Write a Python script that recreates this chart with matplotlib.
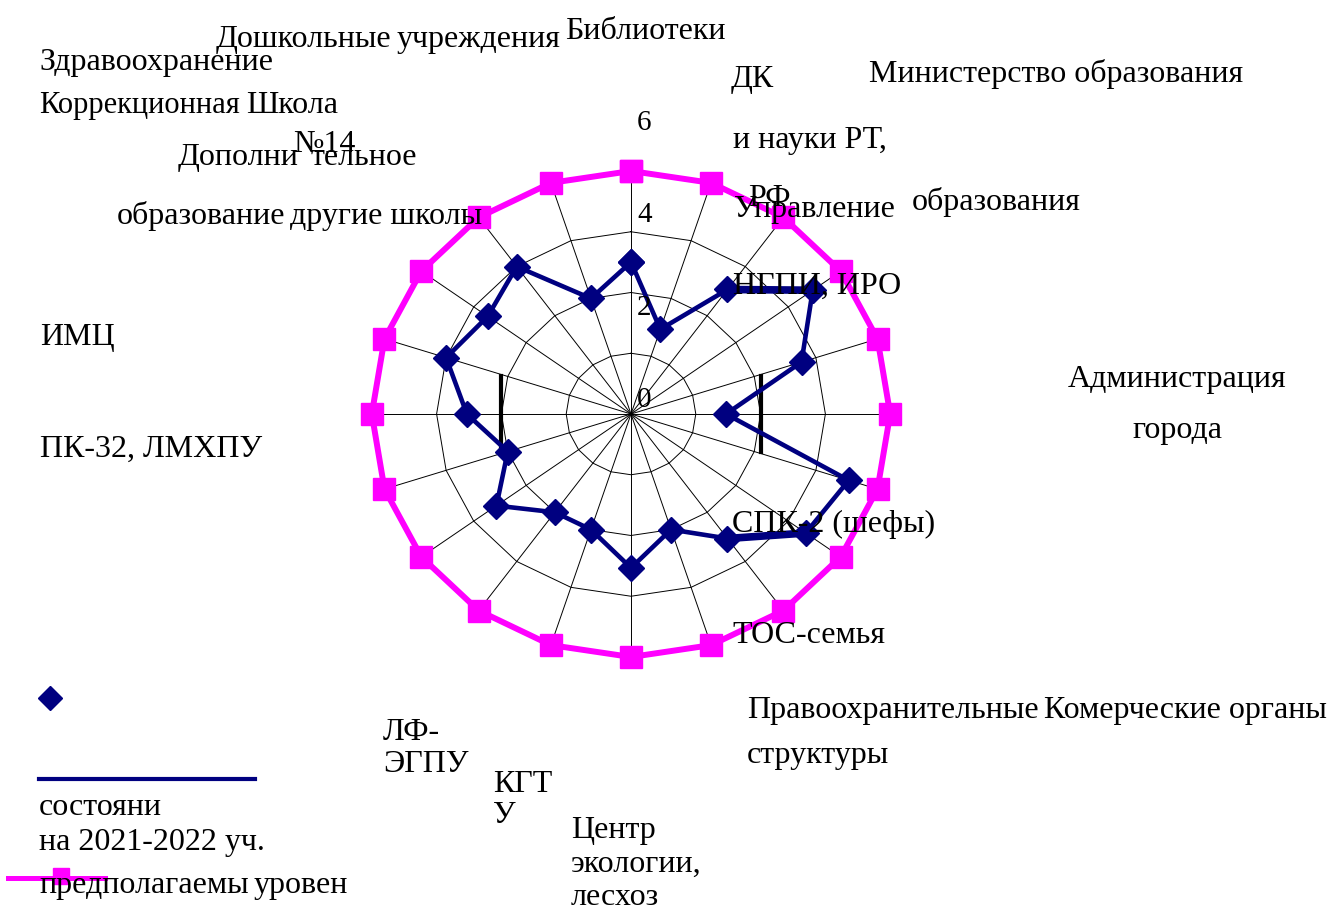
import numpy as np
import matplotlib
matplotlib.use("Agg")
import matplotlib.pyplot as plt
from matplotlib.lines import Line2D

# --- данные -------------------------------------------------------------
n_axes = 20
# текущее состояние (синяя линия), по часовой стрелке от верхней оси
current = [3.75, 2.2, 3.8, 5.2, 4.15, 2.2, 5.3, 5.0, 3.8, 3.0,
           3.8, 3.0, 3.0, 3.85, 3.0, 3.8, 4.5, 4.1, 4.5, 3.0]
# предполагаемый уровень (розовая линия)
target = [6, 6, 6, 6, 6, 6, 6, 6, 6, 6,
          6, 6, 6, 6, 6, 6, 6, 6, 6, 6]
ring_values = [1.5, 3.0, 4.5]
r_max = 6
tick_labels = ["6", "4", "2", "0"]
bar_x = [-3.0, 3.0]          # две чёрные вертикальные черты
bar_y = [-0.95, 0.93]
thick_segments = [(2, 3), (7, 8)]   # участки синей линии, нарисованные жирнее

# подписи (текст, левый край px, базовая линия px)
labels = [
    ("Библиотеки", 565, 39),
    ("Дошкольные", 216, 47),
    ("учреждения", 397, 47),
    ("Здравоохранение", 39, 70),
    ("Школа", 246, 113),
    ("№14", 293, 152),
    ("Дополни", 178, 165),
    ("тельное", 311, 165),
    ("образование", 117, 224),
    ("другие школы", 290, 224),
    ("ДК", 731, 87),
    ("Министерство образования", 869, 82),
    ("и науки РТ,", 733, 148),
    ("РФ", 748, 206),
    ("Управление", 734, 217),
    ("образования", 912, 210),
    ("НГПИ, ИРО", 733, 294),
    ("Администрация", 1068, 387),
    ("города", 1132, 438),
    ("СПК-2 (шефы)", 732, 532),
    ("ТОС-семья", 732, 643),
    ("Правоохранительные", 747, 718),
    ("Комерческие органы", 1044, 718),
    ("структуры", 747, 763),
    ("Центр", 571, 838),
    ("экологии,", 571, 872),
    ("лесхоз", 571, 905),
    ("КГТ", 493, 792),
    ("У", 493, 823),
    ("ЛФ-", 383, 740),
    ("ЭГПУ", 383, 772),
    ("ИМЦ", 40, 345),
    ("ПК-32, ЛМХПУ", 40, 457),
    ("состояни", 39, 815),
    ("на 2021-2022 уч.", 39, 850),
    ("предполагаемы", 39, 893),
    ("уровен", 254, 893),
]
tick_pos = [(637, 130), (637, 222), (637, 315), (637, 407)]

# --- оформление -----------------------------------------------------------
W, H, DPI = 1327, 914, 100
cx, cy = 631, 414            # центр диаграммы, px
sx, sy = 43.2, 40.5          # px на единицу по x и по y
FONT = "Liberation Serif"
NAVY = "#000080"
PINK = "#FF00FF"

fig = plt.figure(figsize=(W / DPI, H / DPI), dpi=DPI)
ax = fig.add_axes([0, 0, 1, 1])
ax.set_xlim(-cx / sx, (W - cx) / sx)
ax.set_ylim(-(H - cy) / sy, cy / sy)
ax.axis("off")

theta = np.deg2rad(90 - 360 / n_axes * np.arange(n_axes))
closed = np.append(theta, theta[0])

# сетка: лучи и многоугольники
for t in theta:
    ax.plot([0, r_max * np.cos(t)], [0, r_max * np.sin(t)],
            color="black", lw=0.7, zorder=1)
for r in ring_values:
    ax.plot(r * np.cos(closed), r * np.sin(closed), color="black", lw=0.7, zorder=1)

ax.plot(bar_x[0] * np.ones(2), bar_y, color="black", lw=3, zorder=2)
ax.plot(bar_x[1] * np.ones(2), bar_y, color="black", lw=3, zorder=2)

tv = np.append(target, target[0])
ax.plot(tv * np.cos(closed), tv * np.sin(closed), color=PINK, lw=4.3,
        marker="s", ms=16, mec=PINK, zorder=3)

cur = np.array(current)
cv = np.append(cur, cur[0])
ax.plot(cv * np.cos(closed), cv * np.sin(closed), color=NAVY, lw=3.3,
        marker="D", ms=13, mec=NAVY, zorder=4)
for i, j in thick_segments:
    idx = [i, j]
    ax.plot(cur[idx] * np.cos(theta[idx]), cur[idx] * np.sin(theta[idx]),
            color=NAVY, lw=5.5, solid_capstyle="butt", zorder=4)

# подписи
for txt, x, y in labels:
    fig.text(x / W, 1 - y / H, txt, ha="left", va="baseline",
             fontsize=23, family=FONT, color="black")
fig.text(39 / W, 1 - 113 / H, "Коррекционная", ha="left", va="baseline",
         fontsize=22, family=FONT, color="black")
for txt, (x, y) in zip(tick_labels, tick_pos):
    fig.text(x / W, 1 - y / H, txt, ha="left", va="baseline",
             fontsize=21, family=FONT, color="black")

# легенда (как в исходнике — разнесена по частям)
fig.add_artist(Line2D([50 / W], [1 - 698 / H], marker="D", ms=12,
                      color=NAVY, mec=NAVY, transform=fig.transFigure))
fig.add_artist(Line2D([39 / W, 255 / W], [1 - 779 / H, 1 - 779 / H],
                      color=NAVY, lw=3, transform=fig.transFigure))
fig.add_artist(Line2D([8 / W, 105 / W], [1 - 878 / H, 1 - 878 / H],
                      color=PINK, lw=3.6, transform=fig.transFigure))
fig.add_artist(Line2D([61 / W], [1 - 876 / H], marker="s", ms=12,
                      color=PINK, mec=PINK, transform=fig.transFigure))

fig.savefig("out.png", dpi=DPI)
